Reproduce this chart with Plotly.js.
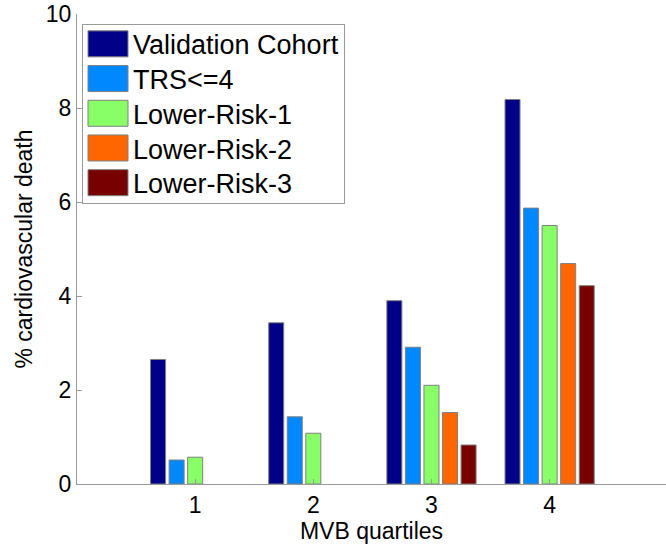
<!DOCTYPE html>
<html>
<head>
<meta charset="utf-8">
<script src="https://cdn.plot.ly/plotly-3.0.1.min.js"></script>
<style>html,body{margin:0;padding:0;background:#fff;overflow:hidden;}</style>
</head>
<body>
<div id="chart" style="width:666px;height:552px;"></div>
<script>
const categories = [1, 2, 3, 4];
const seriesNames = ["Validation Cohort", "TRS<=4", "Lower-Risk-1", "Lower-Risk-2", "Lower-Risk-3"];
const validationCohort = [2.65, 3.43, 3.90, 8.18];
const trsLe4 = [0.51, 1.43, 2.91, 5.87];
const lowerRisk1 = [0.57, 1.08, 2.10, 5.50];
const lowerRisk2 = [null, null, 1.52, 4.69];
const lowerRisk3 = [null, null, 0.83, 4.22];
const yTicks = [0, 2, 4, 6, 8, 10];

const seriesValues = [validationCohort, trsLe4, lowerRisk1, lowerRisk2, lowerRisk3];
const colors = ["#000088", "#0088ff", "#88ff66", "#ff6600", "#770000"];

const traces = seriesValues.map((vals, i) => ({
  type: "bar",
  name: seriesNames[i],
  x: categories,
  y: vals,
  marker: {color: colors[i], line: {color: "#808080", width: 1}},
  hoverinfo: "none"
}));

const font = "'Liberation Sans', Arial, Helvetica, sans-serif";
const layout = {
  width: 666, height: 552,
  margin: {l: 77, r: 0, t: 14, b: 68},
  paper_bgcolor: "#fff", plot_bgcolor: "#fff",
  font: {family: font, color: "#000", size: 23},
  barmode: "group",
  bargap: 0.215,
  bargroupgap: 0.19,
  showlegend: true,
  legend: {
    x: 0.0085, y: 0.979, xanchor: "left", yanchor: "top",
    bgcolor: "#fff", bordercolor: "#9a9a9a", borderwidth: 1,
    font: {family: font, size: 27, color: "#000"},
    itemwidth: 40, tracegroupgap: 0
  },
  xaxis: {
    range: [0, 4.985], tickvals: categories, ticktext: categories.map(String),
    showgrid: false, zeroline: false, showline: true, linecolor: "#9a9a9a", linewidth: 1,
    ticks: "inside", ticklen: 5, tickcolor: "#9a9a9a",
    tickfont: {family: font, size: 23, color: "#000"},
    title: {text: "MVB quartiles", font: {family: font, size: 23, color: "#000"}, standoff: 6},
    fixedrange: true
  },
  yaxis: {
    range: [0, 10], tickvals: yTicks, ticktext: yTicks.map(String),
    showgrid: false, zeroline: false, showline: true, linecolor: "#9a9a9a", linewidth: 1,
    ticks: "inside", ticklen: 5, tickcolor: "#9a9a9a",
    tickfont: {family: font, size: 23, color: "#000"},
    title: {text: "% cardiovascular death", font: {family: font, size: 23, color: "#000"}, standoff: 6},
    fixedrange: true
  }
};

Plotly.newPlot("chart", traces, layout, {displayModeBar: false, staticPlot: true}).then(gd => {
  const leg = gd.querySelector(".legend");
  if (!leg) return;
  // enlarge legend swatches to match the reference's large colour boxes
  leg.querySelectorAll(".legendpoints path").forEach(p => {
    p.setAttribute("d", "M20,13H-20V-13H20Z");
  });
  // tighten legend row spacing like the reference
  const pitch = 34.7, firstCenter = 20;
  const items = leg.querySelectorAll("g.traces");
  items.forEach((g, i) => {
    const t = g.getAttribute("transform") || "";
    const m = t.match(/translate\(\s*([-\d.]+)[ ,]+([-\d.]+)\s*\)/);
    const tx = m ? parseFloat(m[1]) : 1;
    g.setAttribute("transform", "translate(" + tx + "," + (firstCenter + i * pitch) + ")");
  });
  const bg = leg.querySelector("rect.bg");
  if (bg) bg.setAttribute("height", String(firstCenter + (items.length - 1) * pitch + 20));
});
</script>
</body>
</html>
